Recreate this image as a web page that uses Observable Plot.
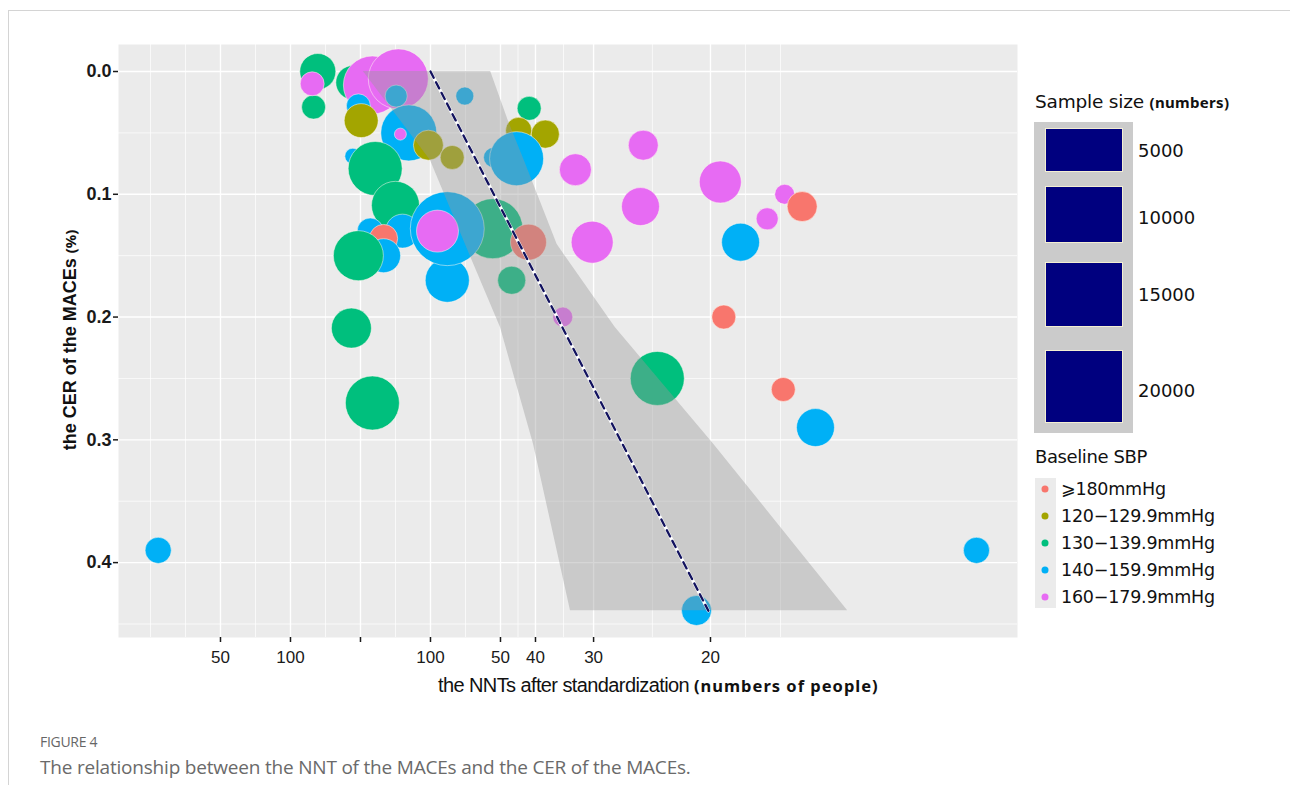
<!DOCTYPE html>
<html><head><meta charset="utf-8">
<script src="https://cdn.jsdelivr.net/npm/d3@7"></script>
<script src="https://cdn.jsdelivr.net/npm/@observablehq/plot@0.6"></script>
<style>
body{margin:0;background:#fff;width:1290px;height:785px;overflow:hidden;position:relative;font-family:"Liberation Sans",Arial,sans-serif;color:#111;}
#frame{position:absolute;left:8px;top:10px;width:1290px;height:790px;border-top:1px solid #d4d4d4;border-left:1px solid #d4d4d4;}
#chart{position:absolute;left:0;top:0;}
.abs{position:absolute;white-space:nowrap;}
#xtitle{left:438px;top:674px;font-family:"Liberation Sans",Arial;font-size:20px;letter-spacing:-0.6px;}
#xtitle span{font-family:"Noto Sans",sans-serif;font-weight:bold;font-size:16.5px;letter-spacing:1px;}
#ytitle{left:70px;top:340px;transform:translate(-50%,-50%) rotate(-90deg);font-size:18px;font-weight:bold;}
#ytitle span{font-family:"Noto Sans",sans-serif;font-weight:bold;font-size:15px;}
#stitle{left:1035px;top:91px;font-family:"DejaVu Sans",sans-serif;font-size:18.5px;letter-spacing:-0.2px;}
#stitle span{font-family:"Noto Sans",sans-serif;font-weight:bold;font-size:15px;letter-spacing:0.3px;}
#sbox{left:1034px;top:122px;width:99px;height:311px;background:#cbcbcb;}
.srect{position:absolute;background:#00007f;border:1px solid #f3eed2;box-sizing:border-box;}
.slab{position:absolute;font-family:"DejaVu Sans",sans-serif;font-size:18px;transform:translateY(-50%);}
#ctitle{left:1035px;top:446px;font-family:"DejaVu Sans",sans-serif;font-size:18px;letter-spacing:-0.4px;}
#ckey{left:1035px;top:478px;width:21px;height:130px;background:#ebebeb;}
.cdot{position:absolute;width:7px;height:7px;border-radius:50%;transform:translate(-50%,-50%);}
.clab{position:absolute;font-family:"DejaVu Sans",sans-serif;font-size:17.5px;letter-spacing:-0.2px;transform:translateY(-50%);}
#fig{left:40px;top:732px;font-family:"Open Sans",sans-serif;font-size:14px;color:#666;letter-spacing:-0.3px;}
#cap{left:40px;top:754px;font-family:"Open Sans",sans-serif;font-size:19px;color:#6a6a6a;letter-spacing:-0.2px;}
</style></head><body>
<div id="frame"></div>
<div id="chart"></div>
<div class="abs" id="xtitle">the NNTs after standardization <span>(numbers of people)</span></div>
<div class="abs" id="ytitle">the CER of the MACEs <span>(%)</span></div>
<div class="abs" id="stitle">Sample size <span>(numbers)</span></div>
<div class="abs" id="sbox"></div>
<div class="abs" id="ctitle">Baseline SBP</div>
<div class="abs" id="ckey"></div>
<div class="abs" id="fig">FIGURE 4</div>
<div class="abs" id="cap">The relationship between the NNT of the MACEs and the CER of the MACEs.</div>
<script>
// ---- data ----
const groups = ["⩾180mmHg", "120−129.9mmHg", "130−139.9mmHg", "140−159.9mmHg", "160−179.9mmHg"];
const groupColors = ["#F8766D", "#A3A500", "#00BF7D", "#00B0F6", "#E76BF3"];
// 1/NNT (signed), CER, sample size, group index
const pointARR = [-0.0061,-0.0067,-0.0069,-0.0011,0.0017,0.0054,-0.0003,0.0051,0.0001,0.0069,0.0057,0.0097,0.0131,-0.0011,0.0021,0.0050,0.0014,0.0060,0.0033,0.0033,-0.0003,0.0124,0.0189,0.0124,0.0110,0.0240,0.0216,0.0149,0.0241,0.0226,0.0264,0.0190,0.0223,0.0307,0.0331,0.0404,0.0400,0.0289,-0.0013,0.0017,0.0424,0.0514,0.0606,0.0581,0.0631,0.0543,0.0519,0.0604,0.0650,-0.0289,0.0880,0.0480];
const pointCER = [0.000,0.029,0.010,0.009,0.011,0.006,0.028,0.020,0.040,0.050,0.051,0.060,0.070,0.069,0.079,0.109,0.130,0.130,0.136,0.150,0.150,0.170,0.128,0.128,0.130,0.139,0.170,0.020,0.030,0.048,0.051,0.070,0.071,0.080,0.139,0.060,0.110,0.200,0.209,0.270,0.250,0.090,0.100,0.120,0.110,0.139,0.200,0.259,0.290,0.390,0.390,0.439];
const pointN = [7200,3200,3200,6400,18700,20000,3200,2700,6400,17400,800,5000,3200,1400,16200,12800,3800,6400,4400,6400,13900,10800,20000,30400,9800,7200,4400,1800,3200,3800,4400,2200,16200,5700,9800,5000,8000,2200,8900,16200,16200,9800,2200,2700,5000,8000,3200,3200,8000,3800,3800,5000];
const pointGroup = [2,2,4,2,4,4,3,3,1,3,4,1,1,3,2,2,3,3,0,3,2,3,2,3,4,0,2,3,2,1,1,3,3,4,4,4,4,4,2,2,2,4,4,4,0,3,0,0,3,3,3,3];
// confidence band (CER levels with lower / upper 1/NNT)
const bandCER = [0, 0.040, 0.0725, 0.141, 0.2086, 0.3031, 0.4392];
const bandLow = [0.0004, 0.0057, 0.0100, 0.0150, 0.0200, 0.0247, 0.0300];
const bandHigh = [0.0186, 0.0211, 0.0234, 0.0281, 0.0364, 0.0504, 0.0696];
// fitted line
const fitARR = [0.0100, 0.0497];
const fitCER = [0.000, 0.4392];
// axes
const xTickValues = [-0.02, -0.01, 0, 0.01, 0.02, 0.025, 0.0333, 0.05];
const xTickLabels = ["50", "100", "", "100", "50", "40", "30", "20"];
const xMinorGrid = [-0.03, -0.025, -0.015, -0.005, 0.005, 0.015, 0.0225, 0.029, 0.0417, 0.055, 0.06];
const yTickValues = [0, 0.1, 0.2, 0.3, 0.4];
const yMinorGrid = [0.05, 0.15, 0.25, 0.35, 0.45];
const sizeLegendValues = [5000, 10000, 15000, 20000];

// ---- build ----
const points = pointARR.map((a, i) => ({arr: a, cer: pointCER[i], n: pointN[i], group: groups[pointGroup[i]]}));
const band = bandCER.map((c, i) => ({cer: c, lo: bandLow[i], hi: bandHigh[i]}));
const fit = fitARR.map((a, i) => ({arr: a, cer: fitCER[i]}));

const chart = Plot.plot({
  width: 1030, height: 700,
  marginLeft: 118, marginRight: 13, marginTop: 44, marginBottom: 63,
  x: {domain: [-0.03457, 0.09386]},
  y: {domain: [-0.022, 0.461], reverse: true},
  r: {type: "sqrt", domain: [0, 20000], range: [0, 30]},
  color: {domain: groups, range: groupColors},
  style: {fontFamily: "Liberation Sans, Arial, sans-serif", fontSize: "16px", color: "#1a1a1a", background: "transparent"},
  marks: [
    Plot.frame({fill: "#EBEBEB", stroke: null}),
    Plot.ruleX(xMinorGrid, {stroke: "white", strokeWidth: 0.7}),
    Plot.ruleY(yMinorGrid, {stroke: "white", strokeWidth: 0.7}),
    Plot.ruleX(xTickValues, {stroke: "white", strokeWidth: 1.4}),
    Plot.ruleY(yTickValues, {stroke: "white", strokeWidth: 1.4}),
    Plot.dot(points, {x: "arr", y: "cer", r: "n", fill: "group", stroke: "#fffaf0", strokeWidth: 0.6, strokeOpacity: 0.85, sort: null}),
    Plot.areaX(band, {y: "cer", x1: "lo", x2: "hi", fill: "#999999", fillOpacity: 0.4}),
    Plot.line(fit, {x: "arr", y: "cer", stroke: "white", strokeWidth: 3.2}),
    Plot.line(fit, {x: "arr", y: "cer", stroke: "#12125e", strokeWidth: 2.3, strokeDasharray: "7,5"}),
    Plot.axisX(xTickValues, {
      tickFormat: d => xTickLabels[xTickValues.findIndex(v => Math.abs(v - d) < 1e-9)],
      tickSize: 5, tickPadding: 8, fontSize: 17, label: null, strokeWidth: 1.5
    }),
    Plot.axisY(yTickValues, {
      tickFormat: d3.format(".1f"), tickSize: 5, tickPadding: 2, fontSize: 18, fontWeight: 600,
      label: null, strokeWidth: 1.5
    })
  ]
});
document.getElementById("chart").appendChild(chart);

// size legend
const rectTops = [128, 186, 262, 350], rectHeights = [44, 57, 65, 73], labelYs = [150, 217, 294, 390];
sizeLegendValues.forEach((v, i) => {
  const r = document.createElement("div");
  r.className = "srect";
  Object.assign(r.style, {left: "1045px", top: rectTops[i] + "px", width: "78px", height: rectHeights[i] + "px"});
  document.body.appendChild(r);
  const t = document.createElement("div");
  t.className = "slab";
  t.textContent = String(v);
  Object.assign(t.style, {left: "1138px", top: labelYs[i] + "px"});
  document.body.appendChild(t);
});
// colour legend
groups.forEach((g, i) => {
  const y = 489 + i * 27;
  const d = document.createElement("div");
  d.className = "cdot";
  Object.assign(d.style, {left: "1045px", top: y + "px", background: groupColors[i]});
  document.body.appendChild(d);
  const t = document.createElement("div");
  t.className = "clab";
  t.textContent = g;
  Object.assign(t.style, {left: "1061px", top: y + "px"});
  document.body.appendChild(t);
});
</script>
</body></html>
